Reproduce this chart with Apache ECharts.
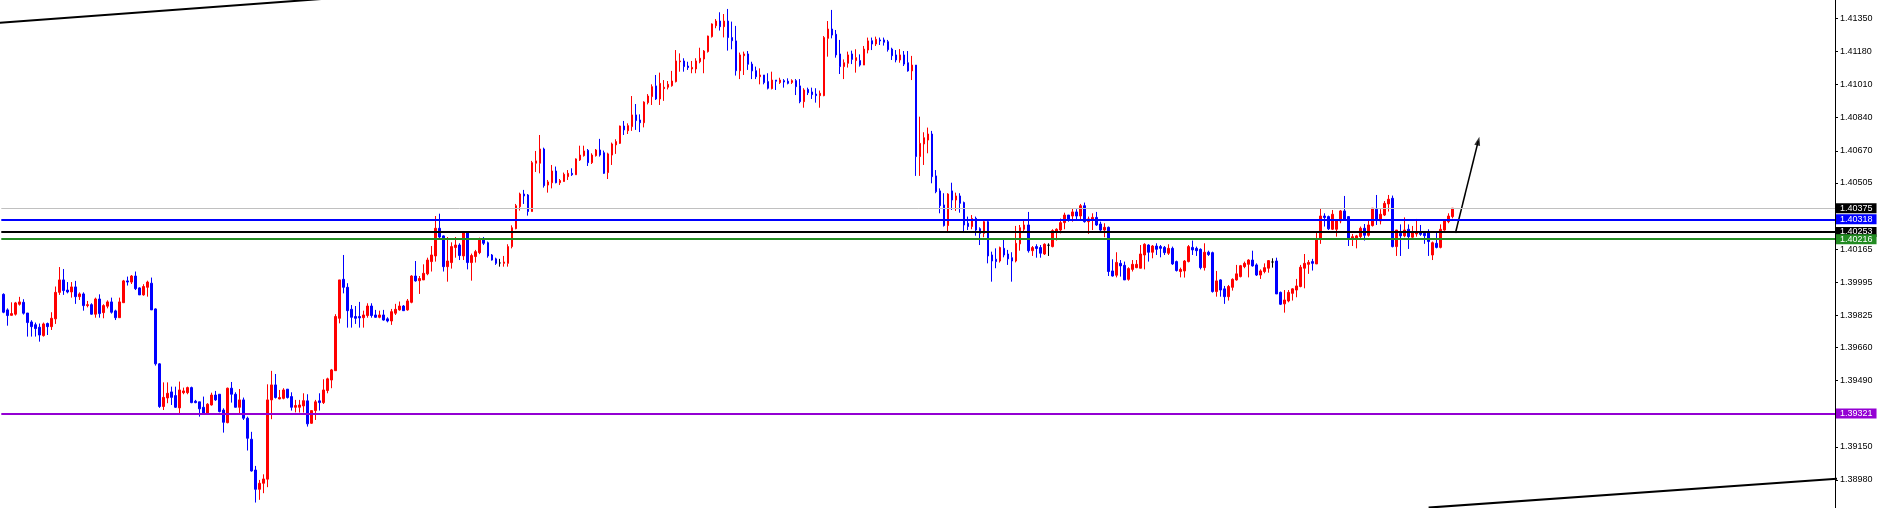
<!DOCTYPE html>
<html>
<head>
<meta charset="utf-8">
<script src="https://cdn.jsdelivr.net/npm/echarts@6.0.0/dist/echarts.min.js"></script>
<style>
html,body{margin:0;padding:0;background:#fff;}
#chart{width:1881px;height:508px;}
</style>
</head>
<body>
<div id="chart"></div>
<script>
// ---- data (bar index 0 = first full bar at the left edge) ----
const opens = [
1.39933,1.39853,1.39825,1.39831,1.39882,1.39892,1.39837,1.39791,1.39777,1.39764,
1.39721,1.39783,1.39767,1.39807,1.39943,1.40007,1.39955,1.39945,1.39971,1.39921,
1.39935,1.39875,1.39880,1.39831,1.39909,1.39839,1.39872,1.39894,1.39848,1.39813,
1.39890,1.40002,1.39996,1.40027,1.39966,1.39930,1.39969,1.39990,1.39858,1.39576,
1.39357,1.39401,1.39432,1.39413,1.39350,1.39428,1.39428,1.39454,1.39384,1.39381,
1.39353,1.39322,1.39365,1.39416,1.39420,1.39339,1.39274,1.39451,1.39420,1.39353,
1.39391,1.39297,1.39189,1.39031,1.38932,1.38963,1.38984,1.39391,1.39468,1.39396,
1.39399,1.39446,1.39408,1.39353,1.39353,1.39360,1.39386,1.39271,1.39336,1.39386,
1.39377,1.39439,1.39493,1.39541,1.39810,1.40010,1.39969,1.39856,1.39819,1.39819,
1.39813,1.39824,1.39873,1.39827,1.39815,1.39827,1.39807,1.39796,1.39836,1.39853,
1.39873,1.39853,1.39892,1.40027,1.40003,1.40007,1.40038,1.40101,1.40130,1.40272,
1.40233,1.40075,1.40096,1.40173,1.40186,1.40130,1.40251,1.40096,1.40127,1.40147,
1.40216,1.40198,1.40135,1.40115,1.40094,1.40092,1.40092,1.40178,1.40270,1.40383,
1.40448,1.40443,1.40358,1.40606,1.40606,1.40679,1.40494,1.40506,1.40566,1.40506,
1.40512,1.40537,1.40554,1.40547,1.40623,1.40645,1.40672,1.40609,1.40645,1.40674,
1.40660,1.40558,1.40648,1.40700,1.40708,1.40797,1.40773,1.40794,1.40854,1.40828,
1.40814,1.40917,1.40948,1.41003,1.40936,1.40989,1.40996,1.41004,1.41025,1.41127,
1.41131,1.41105,1.41090,1.41090,1.41127,1.41141,1.41179,1.41256,1.41312,1.41336,
1.41307,1.41336,1.41251,1.41234,1.41081,1.41158,1.41167,1.41115,1.41081,1.41050,
1.41059,1.41025,1.40989,1.41033,1.41020,1.41030,1.41027,1.41021,1.41030,1.41003,
1.40922,1.40985,1.40972,1.40961,1.40953,1.40953,1.41247,1.41295,1.41268,1.41167,
1.41102,1.41119,1.41167,1.41133,1.41133,1.41110,1.41187,1.41235,1.41218,1.41239,
1.41239,1.41230,1.41192,1.41162,1.41136,1.41162,1.41122,1.41080,1.41110,1.40640,
1.40705,1.40725,1.40756,1.40541,1.40464,1.40392,1.40286,1.40464,1.40417,1.40438,
1.40404,1.40298,1.40281,1.40323,1.40270,1.40246,1.40306,1.40135,1.40113,1.40104,
1.40169,1.40140,1.40121,1.40104,1.40192,1.40267,1.40289,1.40157,1.40178,1.40173,
1.40140,1.40185,1.40178,1.40257,1.40263,1.40301,1.40340,1.40335,1.40356,1.40335,
1.40388,1.40306,1.40315,1.40328,1.40294,1.40263,1.40277,1.40053,1.40031,1.40092,
1.40082,1.40010,1.40061,1.40070,1.40067,1.40135,1.40186,1.40149,1.40181,1.40178,
1.40174,1.40144,1.40169,1.40101,1.40050,1.40053,1.40101,1.40174,1.40169,1.40164,
1.40070,1.40149,1.40147,1.39947,1.40007,1.39961,1.39921,1.39969,1.40007,1.40024,
1.40075,1.40087,1.40109,1.40084,1.40032,1.40050,1.40067,1.40099,1.40104,1.39943,
1.39884,1.39899,1.39938,1.39955,1.39973,1.40067,1.40087,1.40101,1.40089,1.40216,
1.40335,1.40332,1.40267,1.40267,1.40310,1.40361,1.40332,1.40219,1.40222,1.40229,
1.40272,1.40236,1.40286,1.40370,1.40310,1.40340,1.40397,1.40426,1.40178,1.40246,
1.40233,1.40267,1.40226,1.40243,1.40251,1.40246,1.40251,1.40135,1.40195,1.40174,
1.40263,1.40306,1.40332
];
const closes = [
1.39841,1.39824,1.39834,1.39889,1.39894,1.39836,1.39788,1.39767,1.39757,1.39724,
1.39781,1.39767,1.39810,1.39943,1.40007,1.39952,1.39945,1.39971,1.39921,1.39935,
1.39875,1.39880,1.39831,1.39909,1.39834,1.39875,1.39894,1.39841,1.39813,1.39894,
1.40002,1.39996,1.40027,1.39962,1.39930,1.39973,1.39996,1.39853,1.39576,1.39357,
1.39404,1.39425,1.39404,1.39353,1.39442,1.39437,1.39454,1.39377,1.39377,1.39345,
1.39322,1.39369,1.39416,1.39391,1.39331,1.39276,1.39451,1.39420,1.39353,1.39391,
1.39297,1.39194,1.39026,1.38932,1.38963,1.38985,1.39391,1.39468,1.39403,1.39403,
1.39442,1.39403,1.39353,1.39362,1.39365,1.39387,1.39268,1.39336,1.39381,1.39377,
1.39442,1.39499,1.39545,1.39819,1.40007,1.39969,1.39849,1.39815,1.39810,1.39812,
1.39827,1.39873,1.39824,1.39815,1.39827,1.39801,1.39796,1.39844,1.39856,1.39873,
1.39849,1.39899,1.40027,1.40002,1.40014,1.40041,1.40109,1.40135,1.40272,1.40227,
1.40075,1.40104,1.40178,1.40186,1.40132,1.40251,1.40096,1.40132,1.40152,1.40216,
1.40195,1.40130,1.40109,1.40092,1.40094,1.40099,1.40178,1.40275,1.40388,1.40448,
1.40438,1.40358,1.40609,1.40618,1.40679,1.40491,1.40510,1.40566,1.40506,1.40517,
1.40549,1.40554,1.40547,1.40628,1.40648,1.40669,1.40609,1.40648,1.40674,1.40648,
1.40554,1.40654,1.40705,1.40717,1.40797,1.40777,1.40799,1.40854,1.40825,1.40814,
1.40920,1.40951,1.40999,1.40936,1.41016,1.40996,1.41011,1.41028,1.41131,1.41131,
1.41102,1.41097,1.41098,1.41131,1.41145,1.41182,1.41259,1.41321,1.41336,1.41307,
1.41336,1.41251,1.41235,1.41081,1.41162,1.41167,1.41114,1.41080,1.41050,1.41059,
1.41020,1.40991,1.41033,1.41027,1.41033,1.41023,1.41016,1.41030,1.40999,1.40922,
1.40982,1.40968,1.40958,1.40953,1.40965,1.41251,1.41295,1.41264,1.41162,1.41102,
1.41122,1.41162,1.41139,1.41148,1.41110,1.41192,1.41234,1.41218,1.41242,1.41234,
1.41227,1.41189,1.41158,1.41136,1.41162,1.41115,1.41080,1.41110,1.40640,1.40708,
1.40737,1.40756,1.40537,1.40460,1.40388,1.40286,1.40448,1.40417,1.40438,1.40400,
1.40289,1.40281,1.40322,1.40263,1.40246,1.40306,1.40130,1.40104,1.40101,1.40173,
1.40135,1.40115,1.40104,1.40195,1.40275,1.40289,1.40157,1.40173,1.40168,1.40144,
1.40190,1.40185,1.40260,1.40267,1.40301,1.40340,1.40315,1.40356,1.40335,1.40388,
1.40306,1.40320,1.40328,1.40289,1.40263,1.40277,1.40050,1.40027,1.40097,1.40079,
1.40007,1.40065,1.40087,1.40087,1.40140,1.40190,1.40149,1.40181,1.40164,1.40169,
1.40147,1.40169,1.40089,1.40055,1.40061,1.40104,1.40178,1.40161,1.40157,1.40070,
1.40149,1.40137,1.39947,1.40002,1.39955,1.39921,1.39973,1.40010,1.40038,1.40080,
1.40092,1.40109,1.40079,1.40032,1.40053,1.40070,1.40106,1.40099,1.39935,1.39882,
1.39904,1.39943,1.39961,1.39976,1.40072,1.40092,1.40097,1.40092,1.40216,1.40335,
1.40327,1.40269,1.40344,1.40310,1.40361,1.40315,1.40221,1.40229,1.40233,1.40272,
1.40236,1.40289,1.40375,1.40315,1.40344,1.40400,1.40421,1.40178,1.40263,1.40233,
1.40263,1.40229,1.40250,1.40251,1.40241,1.40234,1.40204,1.40198,1.40174,1.40267,
1.40311,1.40335,1.40375
];
const lows = [
1.39836,1.39772,1.39824,1.39824,1.39875,1.39829,1.39716,1.39716,1.39716,1.39690,
1.39716,1.39724,1.39750,1.39781,1.39930,1.39930,1.39938,1.39916,1.39884,1.39904,
1.39849,1.39866,1.39829,1.39813,1.39813,1.39810,1.39861,1.39834,1.39801,1.39813,
1.39890,1.39978,1.39986,1.39955,1.39930,1.39926,1.39921,1.39853,1.39567,1.39350,
1.39339,1.39374,1.39365,1.39350,1.39322,1.39420,1.39420,1.39374,1.39374,1.39305,
1.39322,1.39322,1.39362,1.39386,1.39327,1.39223,1.39271,1.39377,1.39353,1.39322,
1.39288,1.39131,1.39023,1.38864,1.38878,1.38912,1.38943,1.39292,1.39398,1.39394,
1.39394,1.39398,1.39336,1.39327,1.39326,1.39326,1.39254,1.39268,1.39288,1.39336,
1.39370,1.39425,1.39451,1.39541,1.39784,1.39938,1.39762,1.39762,1.39781,1.39762,
1.39762,1.39813,1.39813,1.39813,1.39810,1.39798,1.39789,1.39776,1.39827,1.39849,
1.39848,1.39849,1.39887,1.39998,1.39935,1.40007,1.40031,1.40050,1.40101,1.40221,
1.40050,1.39998,1.40065,1.40121,1.40109,1.40109,1.40061,1.40003,1.40096,1.40139,
1.40186,1.40121,1.40106,1.40084,1.40075,1.40075,1.40075,1.40169,1.40267,1.40363,
1.40397,1.40337,1.40358,1.40561,1.40554,1.40481,1.40455,1.40477,1.40503,1.40494,
1.40512,1.40520,1.40541,1.40546,1.40618,1.40640,1.40592,1.40602,1.40640,1.40640,
1.40551,1.40525,1.40597,1.40654,1.40705,1.40751,1.40756,1.40772,1.40777,1.40766,
1.40790,1.40908,1.40905,1.40931,1.40905,1.40926,1.40985,1.40999,1.41021,1.41076,
1.41076,1.41085,1.41068,1.41068,1.41119,1.41068,1.41174,1.41251,1.41299,1.41287,
1.41252,1.41184,1.41191,1.41056,1.41038,1.41059,1.41085,1.41038,1.41038,1.41011,
1.41011,1.40985,1.40985,1.40982,1.41013,1.40994,1.41011,1.41013,1.40956,1.40914,
1.40891,1.40956,1.40936,1.40917,1.40891,1.40950,1.41153,1.41247,1.41148,1.41064,
1.41038,1.41097,1.41115,1.41071,1.41102,1.41110,1.41170,1.41187,1.41208,1.41213,
1.41210,1.41179,1.41136,1.41124,1.41122,1.41105,1.41076,1.41033,1.40541,1.40541,
1.40597,1.40657,1.40503,1.40452,1.40349,1.40281,1.40255,1.40366,1.40361,1.40352,
1.40258,1.40263,1.40267,1.40234,1.40186,1.40226,1.40092,1.39998,1.40067,1.40096,
1.40123,1.40084,1.39998,1.40097,1.40157,1.40255,1.40147,1.40130,1.40121,1.40121,
1.40135,1.40130,1.40174,1.40209,1.40246,1.40267,1.40306,1.40306,1.40315,1.40311,
1.40301,1.40243,1.40263,1.40284,1.40258,1.40226,1.40027,1.40024,1.40020,1.40024,
1.40007,1.40003,1.40050,1.40067,1.40067,1.40061,1.40101,1.40118,1.40135,1.40123,
1.40135,1.40135,1.40084,1.40050,1.40020,1.40019,1.40097,1.40135,1.40130,1.40061,
1.40055,1.40130,1.39942,1.39921,1.39921,1.39884,1.39901,1.39952,1.40003,1.40020,
1.40067,1.40020,1.40075,1.40027,1.40012,1.40041,1.40044,1.40070,1.39935,1.39878,
1.39839,1.39892,1.39901,1.39918,1.39969,1.39964,1.40038,1.40055,1.40089,1.40192,
1.40281,1.40263,1.40263,1.40229,1.40298,1.40311,1.40181,1.40181,1.40169,1.40221,
1.40209,1.40229,1.40281,1.40289,1.40292,1.40335,1.40358,1.40174,1.40130,1.40130,
1.40226,1.40166,1.40221,1.40229,1.40233,1.40192,1.40130,1.40109,1.40169,1.40169,
1.40260,1.40298,1.40323
];
const highs = [
1.39938,1.39861,1.39892,1.39894,1.39920,1.39908,1.39837,1.39800,1.39788,1.39783,
1.39788,1.39788,1.39841,1.39973,1.40073,1.40063,1.39996,1.39996,1.40002,1.39943,
1.39943,1.39899,1.39887,1.39916,1.39933,1.39882,1.39902,1.39916,1.39854,1.39916,
1.40007,1.40024,1.40032,1.40050,1.39969,1.39985,1.40003,1.40019,1.39861,1.39579,
1.39481,1.39481,1.39459,1.39459,1.39485,1.39454,1.39459,1.39459,1.39391,1.39381,
1.39408,1.39374,1.39428,1.39437,1.39420,1.39348,1.39454,1.39483,1.39430,1.39447,
1.39403,1.39305,1.39227,1.39052,1.38980,1.39009,1.39471,1.39540,1.39524,1.39442,
1.39451,1.39447,1.39430,1.39391,1.39391,1.39425,1.39420,1.39336,1.39391,1.39425,
1.39497,1.39505,1.39550,1.39831,1.40007,1.40135,1.39990,1.39878,1.39873,1.39894,
1.39849,1.39887,1.39887,1.39853,1.39849,1.39853,1.39815,1.39858,1.39884,1.39896,
1.39878,1.39909,1.40031,1.40104,1.40027,1.40087,1.40121,1.40181,1.40335,1.40347,
1.40236,1.40227,1.40200,1.40227,1.40195,1.40258,1.40258,1.40142,1.40161,1.40224,
1.40227,1.40204,1.40140,1.40121,1.40115,1.40130,1.40190,1.40287,1.40397,1.40455,
1.40469,1.40448,1.40618,1.40669,1.40751,1.40686,1.40520,1.40597,1.40589,1.40525,
1.40558,1.40571,1.40580,1.40631,1.40696,1.40696,1.40679,1.40657,1.40679,1.40731,
1.40671,1.40660,1.40712,1.40729,1.40799,1.40823,1.40811,1.40951,1.40910,1.40857,
1.40924,1.40961,1.41011,1.41059,1.41071,1.41033,1.41028,1.41080,1.41187,1.41170,
1.41145,1.41127,1.41131,1.41145,1.41199,1.41187,1.41261,1.41324,1.41346,1.41381,
1.41372,1.41398,1.41333,1.41311,1.41174,1.41179,1.41182,1.41127,1.41102,1.41093,
1.41059,1.41068,1.41076,1.41033,1.41045,1.41038,1.41042,1.41037,1.41038,1.41038,
1.40991,1.40994,1.40994,1.40991,1.40979,1.41259,1.41336,1.41393,1.41290,1.41239,
1.41139,1.41179,1.41184,1.41191,1.41165,1.41208,1.41251,1.41251,1.41256,1.41251,
1.41251,1.41239,1.41199,1.41187,1.41192,1.41182,1.41182,1.41157,1.41110,1.40845,
1.40765,1.40789,1.40772,1.40571,1.40477,1.40452,1.40452,1.40506,1.40455,1.40452,
1.40409,1.40332,1.40340,1.40332,1.40277,1.40315,1.40311,1.40152,1.40169,1.40178,
1.40216,1.40161,1.40149,1.40284,1.40289,1.40318,1.40356,1.40181,1.40190,1.40186,
1.40195,1.40195,1.40267,1.40272,1.40322,1.40352,1.40340,1.40375,1.40370,1.40397,
1.40404,1.40332,1.40349,1.40356,1.40306,1.40298,1.40281,1.40113,1.40149,1.40109,
1.40101,1.40072,1.40109,1.40109,1.40186,1.40195,1.40190,1.40186,1.40195,1.40186,
1.40181,1.40190,1.40178,1.40106,1.40070,1.40109,1.40186,1.40209,1.40178,1.40169,
1.40195,1.40157,1.40152,1.40053,1.40010,1.39976,1.39981,1.40015,1.40084,1.40084,
1.40101,1.40113,1.40157,1.40092,1.40061,1.40092,1.40109,1.40118,1.40121,1.39947,
1.39955,1.39955,1.39964,1.40012,1.40084,1.40140,1.40109,1.40115,1.40251,1.40371,
1.40349,1.40337,1.40366,1.40315,1.40366,1.40438,1.40335,1.40243,1.40238,1.40281,
1.40294,1.40311,1.40375,1.40443,1.40370,1.40412,1.40443,1.40440,1.40263,1.40292,
1.40328,1.40292,1.40284,1.40320,1.40289,1.40255,1.40267,1.40204,1.40258,1.40292,
1.40315,1.40349,1.40375
];

// price-axis tick marks and the labels that are visible
const yTickValues = [1.41350,1.41180,1.41010,1.40840,1.40670,1.40505,1.40335,1.40165,1.39995,1.39825,1.39660,1.39490,1.39320,1.39150,1.38980];
const yTickLabels = [1.41350,1.41180,1.41010,1.40840,1.40670,1.40505,1.40165,1.39995,1.39825,1.39660,1.39490,1.39150,1.38980];

// horizontal levels: bid, resistance/support lines
const levelBid = 1.40375;
const levelBlue = 1.40318;
const levelBlack = 1.40253;
const levelGreen = 1.40216;
const levelPurple = 1.39321;

// trend lines and arrow as [barIndex, price]
const trendUpper = [[-1, 1.41327], [80, 1.41450]];
const trendLower = [[356, 1.38838], [458, 1.38986]];
const arrowPath = [[362.7, 1.40248], [368.4, 1.40720]];

// visible window
const yMin = 1.38836, yMax = 1.41444;
const slotCount = 458;
</script>
<script>
const chart = echarts.init(document.getElementById('chart'), null, {renderer: 'canvas'});
const cats = Array.from({length: slotCount}, (_, i) => String(i));
const candles = opens.map((o, i) => [o, closes[i], lows[i], highs[i]]);
const FONT = 'Liberation Sans';

function lvl(value, lineColor, lineWidth, boxColor) {
  return {
    yAxis: value,
    lineStyle: {color: lineColor, width: lineWidth, type: 'solid'},
    label: {backgroundColor: boxColor}
  };
}

const option = {
  animation: false,
  backgroundColor: '#ffffff',
  textStyle: {fontFamily: FONT},
  grid: {left: 1.3, right: 46, top: 0, bottom: 0, containLabel: false},
  xAxis: [
    {type: 'category', data: cats, show: false, boundaryGap: true},
    {type: 'value', min: -0.5, max: slotCount - 0.5, show: false}
  ],
  yAxis: {
    type: 'value', position: 'right', min: yMin, max: yMax, scale: true,
    splitLine: {show: false},
    axisLine: {show: true, onZero: false, lineStyle: {color: '#000', width: 1}},
    axisTick: {show: true, inside: false, length: 3, customValues: yTickValues, lineStyle: {color: '#000', width: 1}},
    axisLabel: {show: true, customValues: yTickLabels, margin: 5, color: '#000', fontFamily: FONT, fontSize: 9,
      formatter: v => Number(v).toFixed(5)}
  },
  series: [
    {
      type: 'candlestick', xAxisIndex: 0, yAxisIndex: 0,
      data: candles, barWidth: 2,
      itemStyle: {color: '#ff0000', color0: '#0000ff', borderColor: '#ff0000', borderColor0: '#0000ff',
        borderColorDoji: '#000000', borderWidth: 1},
      markLine: {
        silent: true, symbol: 'none', precision: 5,
        label: {show: true, position: 'end', distance: 1, color: '#fff', fontFamily: FONT, fontSize: 9,
          padding: [1, 4, 0, 4], lineHeight: 9,
          formatter: p => Number(p.value).toFixed(5)},
        data: [
          lvl(levelBid, '#c0c0c0', 1, '#000000'),
          lvl(levelBlue, '#0000ff', 2, '#0000ff'),
          lvl(levelBlack, '#000000', 2, '#000000'),
          lvl(levelGreen, '#228b22', 2, '#228b22'),
          lvl(levelPurple, '#9400d3', 2, '#9400d3')
        ]
      }
    },
    {type: 'line', xAxisIndex: 1, yAxisIndex: 0, data: trendUpper, symbol: 'none', silent: true,
      lineStyle: {color: '#000', width: 2}},
    {type: 'line', xAxisIndex: 1, yAxisIndex: 0, data: trendLower, symbol: 'none', silent: true,
      lineStyle: {color: '#000', width: 2}},
    {type: 'line', xAxisIndex: 1, yAxisIndex: 0, data: arrowPath, symbol: 'none', silent: true,
      lineStyle: {color: '#000', width: 1.5}},
    {type: 'scatter', xAxisIndex: 1, yAxisIndex: 0, data: [arrowPath[1]], silent: true,
      symbol: 'triangle', symbolSize: [6, 9],
      symbolRotate: -14, itemStyle: {color: '#000'}}
  ]
};
chart.setOption(option);
</script>
</body>
</html>
